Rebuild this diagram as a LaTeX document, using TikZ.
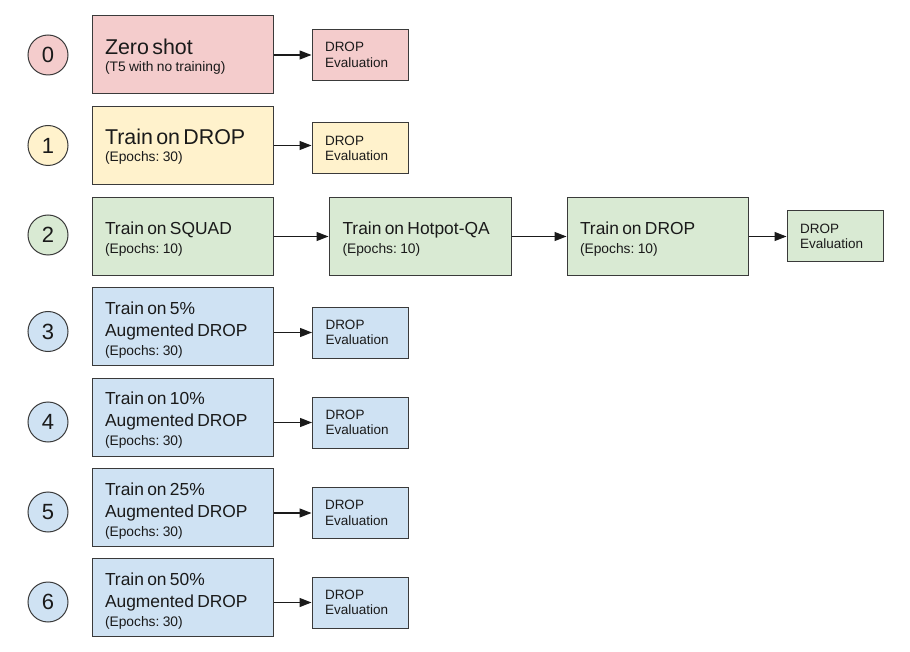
\documentclass[tikz,border=0pt]{standalone}
\usepackage{fontspec}
\setmainfont{Liberation Sans}
\usetikzlibrary{arrows.meta}
\definecolor{cpink}{HTML}{F4CCCC}
\definecolor{cyel}{HTML}{FFF2CC}
\definecolor{cgrn}{HTML}{D9EAD3}
\definecolor{cblu}{HTML}{CFE2F3}
\definecolor{edgec}{HTML}{3A3A3A}
\definecolor{ink}{HTML}{1A1A1A}
\frenchspacing
\newcommand\fbig{\fontsize{21.4}{21.4}\selectfont}
\newcommand\fmid[1]{\fontsize{17.4}{#1}\selectfont}
\newcommand\fsml[1]{\fontsize{13.8}{#1}\selectfont}
\newcommand\fev{\fontsize{13.5}{15.5}\selectfont}
\newcommand\vst[1]{\rule{0pt}{#1pt}}
\tikzset{
  mainbox/.style={draw=edgec, line width=1pt, fill=#1, text=ink, minimum width=181pt,
    minimum height=78pt, text width=155pt, inner xsep=13pt, inner ysep=0pt, align=left},
  evbox/.style={draw=edgec, line width=1pt, fill=#1, text=ink, minimum width=96pt,
    minimum height=51pt, text width=70pt, inner xsep=13pt, inner ysep=0pt, align=left, font=\fev},
  numc/.style={circle, draw=edgec, line width=1pt, fill=#1, minimum size=40pt, inner sep=0pt,
    text=ink, font=\fontsize{22}{22}\selectfont},
  arr/.style={-{Triangle[length=12pt,width=9pt]}, line width=1.3pt, draw=ink},
}
\begin{document}
\begin{tikzpicture}[x=1pt,y=-1pt]
\useasboundingbox (0,0) rectangle (910,652);
% row 0
\node[numc=cpink] (c0) at (48,55) {0};
\node[mainbox=cpink] (m0) at (182.5,55) {{\fbig\vst{18.9}Zero shot\par}{\fsml{17.4}(T5 with no training)\par}};
\node[evbox=cpink] (e0) at (360,55) {DROP\par Evaluation\par};
\draw[arr] (m0.east |- e0.west) -- (e0.west);
% row 1
\node[numc=cyel] (c1) at (48,145.5) {1};
\node[mainbox=cyel] (m1) at (182.5,145.5) {{\fbig\vst{17.9}Train on DROP\par}{\fsml{17.4}(Epochs: 30)\par}};
\node[evbox=cyel] (e1) at (360,148.5) {DROP\par Evaluation\par};
\draw[arr] (m1.east) -- (m1.east -| e1.west);
% row 2
\node[numc=cgrn] (c2) at (48,235) {2};
\node[mainbox=cgrn] (m2a) at (182.5,236.5) {{\fmid{17}\vst{16.9}Train on SQUAD\par}{\fsml{19}(Epochs: 10)\par}};
\node[mainbox=cgrn, minimum width=182pt] (m2b) at (420,236.5) {{\fmid{17}\vst{16.9}Train on Hotpot-QA\par}{\fsml{19}(Epochs: 10)\par}};
\node[mainbox=cgrn] (m2c) at (657.5,236.5) {{\fmid{17}\vst{16.9}Train on DROP\par}{\fsml{19}(Epochs: 10)\par}};
\node[evbox=cgrn, inner xsep=12pt] (e2) at (835,236.5) {DROP\par Evaluation\par};
\draw[arr] (m2a.east) -- (m2b.west);
\draw[arr] (m2b.east) -- (m2c.west);
\draw[arr] (m2c.east) -- (e2.west);
% row 3
\node[numc=cblu] (c3) at (48,331.5) {3};
\node[mainbox=cblu] (m3) at (182.5,326.5) {{\fmid{17}\vst{18.9}Train on 5\%\par}{\fmid{22}Augmented DROP\par}{\fsml{19}(Epochs: 30)\par}};
\node[evbox=cblu] (e3) at (360.5,332.5) {DROP\par Evaluation\par};
\draw[arr] (m3.east |- e3.west) -- (e3.west);
% row 4
\node[numc=cblu] (c4) at (48,422) {4};
\node[mainbox=cblu] (m4) at (182.5,417) {{\fmid{17}\vst{17.9}Train on 10\%\par}{\fmid{22}Augmented DROP\par}{\fsml{19}(Epochs: 30)\par}};
\node[evbox=cblu] (e4) at (360.5,422.5) {DROP\par Evaluation\par};
\draw[arr] (m4.east |- e4.west) -- (e4.west);
% row 5
\node[numc=cblu] (c5) at (48,512) {5};
\node[mainbox=cblu] (m5) at (182.5,507.5) {{\fmid{17}\vst{18.9}Train on 25\%\par}{\fmid{22}Augmented DROP\par}{\fsml{19}(Epochs: 30)\par}};
\node[evbox=cblu] (e5) at (360,513) {DROP\par Evaluation\par};
\draw[arr] (m5.east |- e5.west) -- (e5.west);
% row 6
\node[numc=cblu] (c6) at (48,602) {6};
\node[mainbox=cblu] (m6) at (182.5,597) {{\fmid{17}\vst{19.9}Train on 50\%\par}{\fmid{22}Augmented DROP\par}{\fsml{19}(Epochs: 30)\par}};
\node[evbox=cblu] (e6) at (360,602.5) {DROP\par Evaluation\par};
\draw[arr] (m6.east |- e6.west) -- (e6.west);
\end{tikzpicture}
\end{document}
